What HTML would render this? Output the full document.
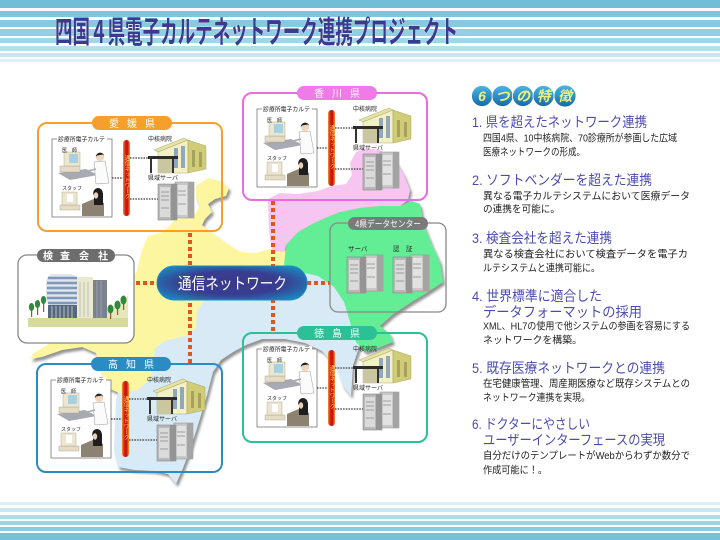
<!DOCTYPE html>
<html><head><meta charset="utf-8">
<style>
html,body{margin:0;padding:0;background:#fff;}
body{width:720px;height:540px;overflow:hidden;}
svg{display:block;font-family:"Liberation Sans","Noto Sans CJK JP",sans-serif;}
</style></head>
<body>
<svg width="720" height="540" viewBox="0 0 720 540" xmlns="http://www.w3.org/2000/svg" font-family='"Liberation Sans","Noto Sans CJK JP",sans-serif'>
<defs>
<filter id="sh" x="-10%" y="-10%" width="130%" height="130%"><feDropShadow dx="2" dy="3" stdDeviation="1.2" flood-color="#777" flood-opacity="0.8"/></filter>
<radialGradient id="net" cx="50%" cy="50%" r="62%"><stop offset="0" stop-color="#3b3a8c"/><stop offset="0.55" stop-color="#393d90"/><stop offset="1" stop-color="#1a88c0"/></radialGradient>
<linearGradient id="bdg" x1="0" y1="0" x2="0" y2="1"><stop offset="0" stop-color="#4cb6e2"/><stop offset="1" stop-color="#1568a8"/></linearGradient>
<linearGradient id="redbar" x1="0" x2="1" y1="0" y2="0"><stop offset="0" stop-color="#f3902e"/><stop offset="0.35" stop-color="#d41a14"/><stop offset="0.65" stop-color="#c81010"/><stop offset="1" stop-color="#f3902e"/></linearGradient>
<g id="hosp">
 <polygon points="6,12 36,0 40,2 10,14" fill="#e6e2a6" stroke="#9c9650" stroke-width="0.4"/>
 <polygon points="10,14 40,2 40,35 10,35" fill="#f3f0c6" stroke="#9c9650" stroke-width="0.4"/>
 <polygon points="40,2 58,8 58,31 40,35" fill="#d0cc78" stroke="#9c9650" stroke-width="0.4"/>
 <rect x="26" y="10" width="4" height="20" fill="#8fa8bc"/>
 <rect x="33" y="8" width="4" height="22" fill="#8fa8bc"/>
 <rect x="44" y="12" width="3" height="17" fill="#a6a25c"/>
 <rect x="51" y="14" width="3" height="15" fill="#a6a25c"/>
 <rect x="10" y="21" width="14" height="14" fill="#c9c6a0"/>
 <rect x="0" y="18" width="30" height="3" fill="#2c2c2c"/>
 <rect x="2" y="21" width="2" height="14" fill="#333"/>
 <rect x="24" y="21" width="2" height="14" fill="#333"/>
</g>
<g id="srv">
 <rect x="17" y="0" width="19" height="36" fill="#c8c8c8" stroke="#888" stroke-width="0.5"/>
 <rect x="30" y="0" width="6" height="36" fill="#a4a4a4"/>
 <rect x="19" y="3" width="10" height="30" fill="#e2e2e2"/>
 <rect x="0" y="2" width="19" height="36" fill="#b8b8b8" stroke="#777" stroke-width="0.5"/>
 <rect x="13" y="2" width="6" height="36" fill="#949494"/>
 <rect x="2" y="5" width="10" height="30" fill="#dadada"/>
 <path d="M3 10h8M3 14h8M3 18h8M3 26h8M20 9h8M20 13h8M20 22h8" stroke="#888" stroke-width="0.8"/>
</g>
<g id="clinicArt">
 <polygon points="6,34 34,30 46,36 18,41" fill="#a9a9b4"/>
 <rect x="8" y="27" width="20" height="6" fill="#e4dcc4" stroke="#a89c80" stroke-width="0.4"/>
 <rect x="12" y="13" width="16" height="14" fill="#ece6d0" stroke="#a89c80" stroke-width="0.4"/>
 <rect x="17" y="15" width="9" height="9" fill="#a8d0e0"/>
 <polygon points="42,23 53,22 57,44 44,45" fill="#fbfbfb" stroke="#999" stroke-width="0.5"/>
 <line x1="44" y1="30" x2="32" y2="33" stroke="#aaa" stroke-width="1.5"/>
 <circle cx="48" cy="18" r="4.2" fill="#f2d6bc"/>
 <path d="M43.8,18 A4.3,4.3 0 0 1 52.3,17 L51,15.5 L45,16.5 Z" fill="#222"/>
 <rect x="8" y="66" width="20" height="5" fill="#e4dcc4" stroke="#a89c80" stroke-width="0.4"/>
 <rect x="10" y="53" width="15" height="13" fill="#ece6d0" stroke="#a89c80" stroke-width="0.4"/>
 <rect x="15" y="55" width="6" height="8" fill="#fff"/>
 <polygon points="30,65 44,59 52,64 52,77 30,77" fill="#8d8172"/>
 <ellipse cx="46" cy="54" rx="4.8" ry="5" fill="#1e1e1e"/>
 <rect x="42" y="54" width="9" height="12" fill="#1e1e1e"/>
 <ellipse cx="44" cy="56.5" rx="2.2" ry="3.2" fill="#f0d0b6"/>
</g>
</defs>

<!-- header stripes -->
<rect x="0" y="0" width="720" height="8" fill="#70bfd7"/>
<rect x="0" y="11" width="720" height="6" fill="#7cc5da"/>
<rect x="0" y="20" width="720" height="7" fill="#86cadd"/>
<rect x="0" y="29" width="720" height="7" fill="#92d0e1"/>
<rect x="0" y="38" width="720" height="5" fill="#a0d6e5"/>
<rect x="0" y="46" width="720" height="5" fill="#b4dfeb"/>
<rect x="0" y="53" width="720" height="4" fill="#c8e8f1"/>
<rect x="0" y="59" width="720" height="3" fill="#dcf0f6"/>
<text x="55" y="43" font-size="31" font-weight="bold" fill="#3b3a8e" stroke="#ffffff" stroke-width="0.6" paint-order="stroke" textLength="403" lengthAdjust="spacingAndGlyphs">四国４県電子カルテネットワーク連携プロジェクト</text>

<!-- bottom stripes -->
<rect x="0" y="502" width="720" height="3" fill="#dcf0f6"/>
<rect x="0" y="508" width="720" height="4" fill="#c8e8f1"/>
<rect x="0" y="515" width="720" height="4" fill="#b0dde9"/>
<rect x="0" y="521" width="720" height="4" fill="#9cd4e3"/>
<rect x="0" y="527" width="720" height="4" fill="#8acbdd"/>
<rect x="0" y="533" width="720" height="7" fill="#74c1d8"/>

<!-- map -->
<g filter="url(#sh)">
 <path fill="#d8eaf6" d="M190,296 L300,272 L330,276 L345,295 L352,330 L360,345 L353,365 L351,396 L343,386 L336,366 L322,351 L305,343 L285,339 L262,339 L246,345 L233,352 L221,360 L213,372 L207,395 L198,425 L190,450 L183,468 L176,484 L168,474 L155,471 L135,470 L118,467 L114,450 L116,400 L120,385 L150,350 L170,330 Z"/>
 <path fill="#fdf6a0" d="M148,236 L160,233 L170,226 L175,219 L185,218 L195,214 L200,206 L196,198 L196,186 L208,178 L220,181 L229,188 L226,196 L215,199 L208,204 L212,212 L205,219 L202,225 L212,233 L226,243 L240,252 L255,253 L270,249 L280,247 L287,252 L287,270 L270,282 L205,300 L197,310 L196,328 L185,336 L165,341 L155,348 L151,378 L138,390 L119,393 L106,387 L101,370 L96,353 L82,347 L62,350 L42,357 L30,359 L34,353 L60,337 L100,312 L128,290 L137,270 L142,250 Z"/>
 <path fill="#64ee96" d="M284,265 L286,245 L298,232 L312,224 L325,218 L340,212 L360,208 L380,206 L400,206 L412,201 L420,204 L424,225 L432,245 L440,262 L443,282 L428,292 L410,303 L392,315 L380,326 L390,334 L393,342 L378,348 L365,352 L356,342 L350,322 L344,302 L334,287 L318,276 L300,272 Z"/>
 <path fill="#f6c6f0" d="M268,199 L280,193 L298,194 L318,191 L332,186 L346,184 L352,175 L350,163 L356,152 L366,148 L380,150 L395,160 L404,175 L410,190 L408,200 L400,206 L380,206 L360,208 L340,212 L325,218 L312,224 L298,232 L286,245 L284,252 L272,251 L269,230 Z"/>
</g>

<!-- red dotted network lines -->
<path d="M190 233V364 M273 201V333 M136 283H157 M307 283H330" stroke="#e2561c" stroke-width="4" stroke-dasharray="4 3" fill="none"/>

<!-- 検査会社 -->
<rect x="18" y="255" width="116" height="88" rx="9" fill="#fff" stroke="#888" stroke-width="1.3"/>
<rect x="28" y="318" width="100" height="9" fill="#d6da9c"/>
<polygon points="96,318 128,296 128,318" fill="#e6e8bc"/>
<rect x="46" y="274" width="32" height="32" rx="8" fill="#dfe6f0"/>
<path d="M48 278H77M47 283H77M47 288H77M47 293H77M47 298H77M48 303H77" stroke="#7f98b8" stroke-width="2.4"/>
<rect x="48" y="305" width="30" height="13" fill="#56667c"/>
<path d="M52 306V318M56 306V318M60 306V318M64 306V318M68 306V318M72 306V318" stroke="#cfd8e2" stroke-width="0.8"/>
<rect x="77" y="277" width="16" height="41" fill="#ece8cc"/>
<rect x="93" y="280" width="14" height="38" fill="#7a828e"/>
<path d="M97 281V318M101 281V318M80 282V317M84 282V317M88 282V317" stroke="#a8b0bc" stroke-width="0.7"/>
<g fill="#8a5a3a"><rect x="31" y="308" width="1.2" height="9"/><rect x="37" y="305" width="1.2" height="10"/><rect x="43" y="302" width="1.2" height="10"/><rect x="110" y="311" width="1.2" height="8"/><rect x="117" y="307" width="1.2" height="8"/><rect x="123" y="302" width="1.2" height="8"/></g>
<g fill="#2f8a3a"><ellipse cx="31.5" cy="307" rx="2.6" ry="4"/><ellipse cx="37.5" cy="304" rx="2.6" ry="4"/><ellipse cx="43.5" cy="300" rx="2.6" ry="4"/><ellipse cx="110.5" cy="309" rx="3" ry="4.5"/><ellipse cx="117.5" cy="305" rx="3" ry="4.5"/><ellipse cx="123.5" cy="300" rx="3" ry="4.5"/></g>
<rect x="37" y="249" width="78" height="13" rx="6.5" fill="#6d6d6d"/>
<text y="259.5" font-size="10" font-weight="bold" fill="#fff" text-anchor="middle"><tspan x="48">検</tspan><tspan x="65">査</tspan><tspan x="84">会</tspan><tspan x="103">社</tspan></text>

<!-- 4県データセンター -->
<rect x="330" y="223" width="116" height="89" rx="8" fill="none" stroke="#888" stroke-width="1.3"/>
<rect x="348" y="217" width="80" height="13" rx="6.5" fill="#7a7a7a"/>
<text x="388" y="227" font-size="9" fill="#fff" text-anchor="middle" textLength="66" lengthAdjust="spacingAndGlyphs">4県データセンター</text>
<text x="348" y="251" font-size="6.5" fill="#222">サーバ</text>
<text x="393" y="251" font-size="6.5" fill="#222">認　証</text>
<use href="#srv" transform="translate(347,255)"/>
<use href="#srv" transform="translate(393,255)"/>

<!-- 愛媛県 -->
<g transform="translate(38,123)">
 <rect x="0" y="0" width="184" height="108" rx="9" fill="none" stroke="#f5a02c" stroke-width="2"/>
 <rect x="54" y="-7" width="80" height="14" rx="7" fill="#f5a02c"/>
 <text y="4" font-size="10" fill="#fff" text-anchor="middle"><tspan x="76">愛</tspan><tspan x="94">媛</tspan><tspan x="112">県</tspan></text>
 <rect x="14" y="16" width="60" height="78" fill="#fff" stroke="#777" stroke-width="0.8"/>
 <rect x="19" y="13" width="50" height="6" fill="#fff"/>
 <text x="20" y="18.5" font-size="6" fill="#222" textLength="47" lengthAdjust="spacingAndGlyphs">診療所電子カルテ</text>
 <use href="#clinicArt" transform="translate(14,16)"/>
 <text x="24" y="29" font-size="5" fill="#222">医　師</text>
 <text x="24" y="67" font-size="5" fill="#222">スタッフ</text>
 <path d="M74 55H85 M92 35H112 M92 76H122" stroke="#333" stroke-width="1.3" stroke-dasharray="1.5 1.2" fill="none"/>
 <rect x="85" y="17" width="7" height="76" rx="3.5" fill="url(#redbar)"/>
 <text x="88.5" y="32" font-size="5.5" fill="#ffd860" writing-mode="tb">通信ネットワーク</text>
 <text x="110" y="18" font-size="6" fill="#222">中核病院</text>
 <use href="#hosp" transform="translate(110,15)"/>
 <text x="110" y="57" font-size="6" fill="#222">県域サーバ</text>
 <use href="#srv" transform="translate(120,59)"/>
</g>

<!-- 香川県 -->
<g transform="translate(243,93)">
 <rect x="0" y="0" width="184" height="107" rx="9" fill="none" stroke="#ea6ce2" stroke-width="2"/>
 <rect x="54" y="-7" width="80" height="14" rx="7" fill="#f07ae8"/>
 <text y="4" font-size="10" fill="#fff" text-anchor="middle"><tspan x="76">香</tspan><tspan x="94">川</tspan><tspan x="112">県</tspan></text>
 <rect x="14" y="16" width="60" height="78" fill="#fff" stroke="#777" stroke-width="0.8"/>
 <rect x="19" y="13" width="50" height="6" fill="#fff"/>
 <text x="20" y="18.5" font-size="6" fill="#222" textLength="47" lengthAdjust="spacingAndGlyphs">診療所電子カルテ</text>
 <use href="#clinicArt" transform="translate(14,16)"/>
 <text x="24" y="29" font-size="5" fill="#222">医　師</text>
 <text x="24" y="67" font-size="5" fill="#222">スタッフ</text>
 <path d="M74 55H85 M92 35H112 M92 76H122" stroke="#333" stroke-width="1.3" stroke-dasharray="1.5 1.2" fill="none"/>
 <rect x="85" y="17" width="7" height="76" rx="3.5" fill="url(#redbar)"/>
 <text x="88.5" y="32" font-size="5.5" fill="#ffd860" writing-mode="tb">通信ネットワーク</text>
 <text x="110" y="18" font-size="6" fill="#222">中核病院</text>
 <use href="#hosp" transform="translate(110,15)"/>
 <text x="110" y="57" font-size="6" fill="#222">県域サーバ</text>
 <use href="#srv" transform="translate(120,59)"/>
</g>

<!-- 高知県 -->
<g transform="translate(37,364)">
 <rect x="0" y="0" width="185" height="108" rx="9" fill="none" stroke="#2a8cc2" stroke-width="2"/>
 <rect x="54" y="-7" width="80" height="14" rx="7" fill="#2a8cc2"/>
 <text y="4" font-size="10" fill="#fff" text-anchor="middle"><tspan x="76">高</tspan><tspan x="94">知</tspan><tspan x="112">県</tspan></text>
 <rect x="14" y="16" width="60" height="78" fill="#fff" stroke="#777" stroke-width="0.8"/>
 <rect x="19" y="13" width="50" height="6" fill="#fff"/>
 <text x="20" y="18.5" font-size="6" fill="#222" textLength="47" lengthAdjust="spacingAndGlyphs">診療所電子カルテ</text>
 <use href="#clinicArt" transform="translate(14,16)"/>
 <text x="24" y="29" font-size="5" fill="#222">医　師</text>
 <text x="24" y="67" font-size="5" fill="#222">スタッフ</text>
 <path d="M74 55H85 M92 35H112 M92 76H122" stroke="#333" stroke-width="1.3" stroke-dasharray="1.5 1.2" fill="none"/>
 <rect x="85" y="17" width="7" height="76" rx="3.5" fill="url(#redbar)"/>
 <text x="88.5" y="32" font-size="5.5" fill="#ffd860" writing-mode="tb">通信ネットワーク</text>
 <text x="110" y="18" font-size="6" fill="#222">中核病院</text>
 <use href="#hosp" transform="translate(110,15)"/>
 <text x="110" y="57" font-size="6" fill="#222">県域サーバ</text>
 <use href="#srv" transform="translate(120,59)"/>
</g>

<!-- 徳島県 -->
<g transform="translate(243,333)">
 <rect x="0" y="0" width="184" height="109" rx="9" fill="none" stroke="#2cc096" stroke-width="2"/>
 <rect x="54" y="-7" width="80" height="14" rx="7" fill="#2cc096"/>
 <text y="4" font-size="10" fill="#fff" text-anchor="middle"><tspan x="76">徳</tspan><tspan x="94">島</tspan><tspan x="112">県</tspan></text>
 <rect x="14" y="16" width="60" height="78" fill="#fff" stroke="#777" stroke-width="0.8"/>
 <rect x="19" y="13" width="50" height="6" fill="#fff"/>
 <text x="20" y="18.5" font-size="6" fill="#222" textLength="47" lengthAdjust="spacingAndGlyphs">診療所電子カルテ</text>
 <use href="#clinicArt" transform="translate(14,16)"/>
 <text x="24" y="29" font-size="5" fill="#222">医　師</text>
 <text x="24" y="67" font-size="5" fill="#222">スタッフ</text>
 <path d="M74 55H85 M92 35H112 M92 76H122" stroke="#333" stroke-width="1.3" stroke-dasharray="1.5 1.2" fill="none"/>
 <rect x="85" y="17" width="7" height="76" rx="3.5" fill="url(#redbar)"/>
 <text x="88.5" y="32" font-size="5.5" fill="#ffd860" writing-mode="tb">通信ネットワーク</text>
 <text x="110" y="18" font-size="6" fill="#222">中核病院</text>
 <use href="#hosp" transform="translate(110,15)"/>
 <text x="110" y="57" font-size="6" fill="#222">県域サーバ</text>
 <use href="#srv" transform="translate(120,59)"/>
</g>

<!-- 通信ネットワーク pill -->
<rect x="157" y="266" width="150" height="34" rx="17" fill="url(#net)" stroke="#1c8cc4" stroke-width="1"/>
<text x="178" y="289" font-size="16" fill="#fff" textLength="109" lengthAdjust="spacingAndGlyphs">通信ネットワーク</text>

<!-- 6つの特徴 badge -->
<g stroke="#ffffff" stroke-width="0.8">
 <circle cx="482" cy="96" r="10.5" fill="url(#bdg)"/>
 <circle cx="502.5" cy="96" r="10.5" fill="url(#bdg)"/>
 <circle cx="523" cy="96" r="10.5" fill="url(#bdg)"/>
 <circle cx="543.5" cy="96" r="10.5" fill="url(#bdg)"/>
 <circle cx="565" cy="96" r="11" fill="url(#bdg)"/>
</g>
<g font-size="14" font-weight="bold" font-style="italic" fill="#eef27a" text-anchor="middle">
 <text x="482" y="101">6</text>
 <text x="502.5" y="101">つ</text>
 <text x="523" y="101">の</text>
 <text x="543.5" y="101">特</text>
 <text x="565" y="101">徴</text>
</g>

<!-- features -->
<g font-size="14" fill="#4c4cae">
 <text x="472" y="127" textLength="175" lengthAdjust="spacingAndGlyphs">1. 県を超えたネットワーク連携</text>
 <text x="472" y="185" textLength="180" lengthAdjust="spacingAndGlyphs">2. ソフトベンダーを超えた連携</text>
 <text x="472" y="243" textLength="140" lengthAdjust="spacingAndGlyphs">3. 検査会社を超えた連携</text>
 <text x="472" y="301" textLength="130" lengthAdjust="spacingAndGlyphs">4. 世界標準に適合した</text>
 <text x="483" y="317" textLength="159" lengthAdjust="spacingAndGlyphs">データフォーマットの採用</text>
 <text x="472" y="373" textLength="193" lengthAdjust="spacingAndGlyphs">5. 既存医療ネットワークとの連携</text>
 <text x="472" y="429" textLength="118" lengthAdjust="spacingAndGlyphs">6. ドクターにやさしい</text>
 <text x="483" y="445" textLength="182" lengthAdjust="spacingAndGlyphs">ユーザーインターフェースの実現</text>
</g>
<g font-size="10" fill="#222">
 <text x="483" y="141.5" textLength="194" lengthAdjust="spacingAndGlyphs">四国4県、10中核病院、70診療所が参画した広域</text>
 <text x="483" y="155.5" textLength="102" lengthAdjust="spacingAndGlyphs">医療ネットワークの形成。</text>
 <text x="483" y="199.5" textLength="207" lengthAdjust="spacingAndGlyphs">異なる電子カルテシステムにおいて医療データ</text>
 <text x="483" y="212.5" textLength="77" lengthAdjust="spacingAndGlyphs">の連携を可能に。</text>
 <text x="483" y="257.5" textLength="205" lengthAdjust="spacingAndGlyphs">異なる検査会社において検査データを電子カ</text>
 <text x="483" y="271.5" textLength="117" lengthAdjust="spacingAndGlyphs">ルテシステムと連携可能に。</text>
 <text x="483" y="329.5" textLength="207" lengthAdjust="spacingAndGlyphs">XML、HL7の使用で他システムの参画を容易にする</text>
 <text x="483" y="343.5" textLength="99" lengthAdjust="spacingAndGlyphs">ネットワークを構築。</text>
 <text x="483" y="387" textLength="207" lengthAdjust="spacingAndGlyphs">在宅健康管理、周産期医療など既存システムとの</text>
 <text x="483" y="401" textLength="107" lengthAdjust="spacingAndGlyphs">ネットワーク連携を実現。</text>
 <text x="483" y="459" textLength="207" lengthAdjust="spacingAndGlyphs">自分だけのテンプレートがWebからわずか数分で</text>
 <text x="483" y="473.5" textLength="64" lengthAdjust="spacingAndGlyphs">作成可能に！。</text>
</g>
</svg>
</body></html>
